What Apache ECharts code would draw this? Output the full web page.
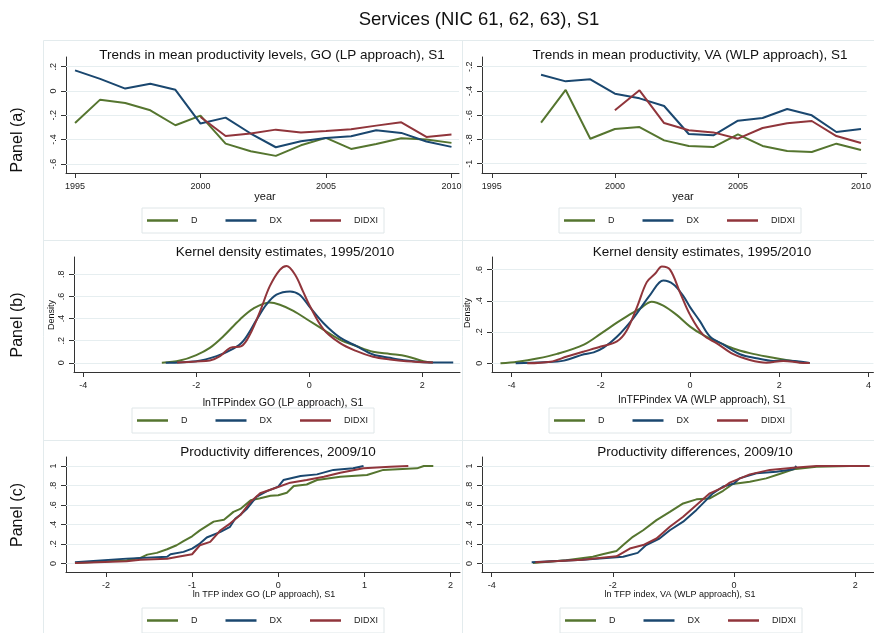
<!DOCTYPE html>
<html>
<head>
<meta charset="utf-8">
<script src="https://cdn.jsdelivr.net/npm/echarts@6/dist/echarts.min.js"></script>
<style>
  html, body { margin: 0; padding: 0; background: #fff; }
  #chart { width: 874px; height: 633px; }
</style>
</head>
<body>
<div id="chart"></div>
<script>
// ---- series names and colours ----
const seriesNames = ['D', 'DX', 'DIDXI'];
const seriesColors = { D: '#55752f', DX: '#1a476f', DIDXI: '#90353b' };

// ---- Panel (a): yearly mean productivity ----
const years = [1995, 1996, 1997, 1998, 1999, 2000, 2001, 2002, 2003, 2004, 2005, 2006, 2007, 2008, 2009, 2010];
const goD     = [-0.263, -0.071, -0.099, -0.159, -0.282, -0.203, -0.433, -0.496, -0.534, -0.447, -0.386, -0.477, -0.436, -0.389, -0.400, -0.427];
const goDX    = [0.170, 0.100, 0.020, 0.060, 0.010, -0.268, -0.219, -0.350, -0.463, -0.414, -0.386, -0.373, -0.323, -0.345, -0.416, -0.460];
const goDIDXI = [null, null, null, null, null, -0.214, -0.370, -0.350, -0.318, -0.342, -0.329, -0.315, -0.285, -0.258, -0.378, -0.359];
const vaD     = [null, null, -0.662, -0.392, -0.794, -0.714, -0.698, -0.808, -0.854, -0.863, -0.758, -0.854, -0.896, -0.904, -0.835, -0.887];
const vaDX    = [null, null, -0.266, -0.321, -0.304, -0.423, -0.461, -0.524, -0.755, -0.766, -0.645, -0.623, -0.549, -0.601, -0.739, -0.714];
const vaDIDXI = [null, null, null, null, null, -0.560, -0.395, -0.665, -0.725, -0.742, -0.794, -0.706, -0.667, -0.648, -0.772, -0.830];

// ---- Panel (b): kernel density estimates (x grid, density) ----
const kdeGoD_x     = [-2.61, -2.29, -2.0, -1.76, -1.52, -1.23, -0.99, -0.70, -0.52, -0.28, 0, 0.25, 0.54, 0.84, 1.13, 1.43, 1.72, 2.02, 2.19];
const kdeGoD_y     = [0, 0.02, 0.07, 0.135, 0.24, 0.39, 0.49, 0.545, 0.525, 0.47, 0.38, 0.30, 0.21, 0.15, 0.10, 0.08, 0.06, 0.015, 0.003];
const kdeGoDX_x    = [-2.54, -2.0, -1.64, -1.35, -1.17, -0.93, -0.76, -0.58, -0.34, -0.17, 0, 0.25, 0.54, 0.84, 1.13, 1.43, 1.72, 2.02, 2.55];
const kdeGoDX_y    = [0, 0.015, 0.06, 0.125, 0.195, 0.39, 0.525, 0.615, 0.645, 0.615, 0.51, 0.36, 0.23, 0.15, 0.075, 0.045, 0.02, 0.006, 0.003];
const kdeGoDIDXI_x = [-2.34, -2.0, -1.76, -1.58, -1.40, -1.20, -1.05, -0.87, -0.70, -0.52, -0.40, -0.25, -0.11, 0, 0.25, 0.54, 0.84, 1.13, 1.43, 1.72, 2.19];
const kdeGoDIDXI_y = [0.003, 0.012, 0.02, 0.06, 0.135, 0.15, 0.255, 0.465, 0.69, 0.84, 0.875, 0.795, 0.645, 0.525, 0.305, 0.18, 0.105, 0.054, 0.03, 0.015, 0.003];

const kdeVaD_x     = [-4.25, -3.87, -3.43, -2.98, -2.38, -2.0, -1.64, -1.34, -1.12, -0.86, -0.60, -0.30, 0, 0.30, 0.60, 0.97, 1.34, 1.71, 2.09, 2.46, 2.68];
const kdeVaD_y     = [0, 0.01, 0.03, 0.06, 0.12, 0.19, 0.26, 0.315, 0.35, 0.395, 0.37, 0.31, 0.235, 0.18, 0.14, 0.095, 0.065, 0.043, 0.025, 0.006, 0.002];
const kdeVaDX_x    = [-3.91, -3.28, -2.83, -2.38, -2.16, -1.94, -1.64, -1.27, -0.89, -0.60, -0.37, -0.15, 0, 0.22, 0.45, 0.75, 1.12, 1.49, 1.86, 2.09, 2.68];
const kdeVaDX_y    = [0, 0.006, 0.017, 0.058, 0.07, 0.10, 0.17, 0.29, 0.44, 0.53, 0.505, 0.43, 0.36, 0.27, 0.17, 0.12, 0.058, 0.032, 0.015, 0.017, 0.002];
const kdeVaDIDXI_x = [-3.65, -3.13, -2.76, -2.38, -2.0, -1.64, -1.42, -1.19, -0.97, -0.78, -0.63, -0.45, -0.22, 0, 0.30, 0.60, 0.97, 1.34, 1.71, 2.09, 2.46, 2.68];
const kdeVaDIDXI_y = [0, 0.01, 0.043, 0.075, 0.107, 0.14, 0.21, 0.36, 0.52, 0.575, 0.62, 0.60, 0.45, 0.31, 0.18, 0.128, 0.058, 0.021, 0.004, 0.015, 0.004, 0.002];

// ---- Panel (c): cumulative distributions 2009/10 ----
const cdfGoD_x     = [-2.36, -1.76, -1.60, -1.52, -1.41, -1.29, -1.18, -1.10, -1.0, -0.91, -0.75, -0.63, -0.52, -0.44, -0.32, -0.21, -0.09, 0, 0.10, 0.18, 0.33, 0.45, 0.72, 1.03, 1.22, 1.61, 1.69, 1.80];
const cdfGoD_y     = [0.007, 0.034, 0.058, 0.092, 0.11, 0.147, 0.188, 0.23, 0.28, 0.34, 0.43, 0.45, 0.53, 0.56, 0.65, 0.67, 0.695, 0.70, 0.726, 0.795, 0.81, 0.856, 0.89, 0.907, 0.96, 0.976, 1.0, 1.0];
const cdfGoDX_x    = [-2.36, -1.76, -1.29, -1.25, -1.10, -1.0, -0.91, -0.83, -0.67, -0.56, -0.50, -0.44, -0.36, -0.25, -0.13, 0, 0.06, 0.26, 0.45, 0.64, 0.87, 0.99];
const cdfGoDX_y    = [0.014, 0.051, 0.07, 0.096, 0.12, 0.154, 0.205, 0.267, 0.325, 0.377, 0.46, 0.50, 0.565, 0.685, 0.743, 0.788, 0.856, 0.897, 0.914, 0.96, 0.976, 1.0];
const cdfGoDIDXI_x = [-2.36, -1.76, -1.60, -1.29, -1.18, -1.0, -0.91, -0.79, -0.67, -0.56, -0.44, -0.32, -0.21, -0.05, 0.14, 0.33, 0.53, 0.72, 0.99, 1.30, 1.51];
const cdfGoDIDXI_y = [0.007, 0.024, 0.04, 0.05, 0.068, 0.096, 0.188, 0.223, 0.342, 0.41, 0.497, 0.634, 0.72, 0.77, 0.829, 0.856, 0.89, 0.93, 0.976, 0.993, 1.0];

const cdfVaD_x     = [-3.32, -2.77, -2.33, -2.17, -1.94, -1.83, -1.67, -1.50, -1.28, -1.06, -0.84, -0.62, -0.40, -0.18, -0.02, 0.26, 0.53, 0.75, 0.98, 1.36, 1.91];
const cdfVaD_y     = [0.007, 0.034, 0.07, 0.096, 0.13, 0.19, 0.274, 0.342, 0.445, 0.53, 0.616, 0.658, 0.668, 0.746, 0.815, 0.839, 0.873, 0.918, 0.966, 0.993, 1.0];
const cdfVaDX_x    = [-3.34, -2.50, -1.83, -1.59, -1.45, -1.23, -1.06, -0.84, -0.62, -0.46, -0.35, -0.18, 0, 0.09, 0.37, 0.70, 0.98, 1.03];
const cdfVaDX_y    = [0.014, 0.04, 0.07, 0.11, 0.19, 0.257, 0.342, 0.43, 0.55, 0.65, 0.72, 0.79, 0.82, 0.873, 0.925, 0.94, 0.966, 1.0];
const cdfVaDIDXI_x = [-3.28, -2.50, -1.94, -1.72, -1.50, -1.28, -1.06, -0.84, -0.62, -0.40, -0.18, -0.07, 0.26, 0.59, 0.98, 1.36, 2.24];
const cdfVaDIDXI_y = [0.014, 0.04, 0.075, 0.154, 0.19, 0.257, 0.377, 0.48, 0.60, 0.72, 0.78, 0.829, 0.914, 0.96, 0.983, 1.0, 1.0];

// ---- tick values ----
const ticksYearX = [1995, 2000, 2005, 2010];
const ticksGoY   = [-0.6, -0.4, -0.2, 0, 0.2];
const ticksVaY   = [-1, -0.8, -0.6, -0.4, -0.2];
const ticksKdeGoX = [-4, -2, 0, 2];
const ticksKdeGoY = [0, 0.2, 0.4, 0.6, 0.8];
const ticksKdeVaX = [-4, -2, 0, 2, 4];
const ticksKdeVaY = [0, 0.2, 0.4, 0.6];
const ticksCdfGoX = [-2, -1, 0, 1, 2];
const ticksCdfVaX = [-4, -2, 0, 2];
const ticksCdfY   = [0, 0.2, 0.4, 0.6, 0.8, 1];

const FONT = '"Liberation Sans", Arial, Helvetica, sans-serif';
const GRIDLINE = '#e6eef0';
const FRAME = '#e3ebed';

// Stata-style number labels: .2, -.4, 0, -1
function stataNum(v) {
  const r = Math.round(v * 10) / 10;
  return String(r).replace(/^(-?)0\./, '$1.');
}
function pairs(xs, ys) {
  return xs.map((x, i) => [x, ys[i]]).filter(p => p[1] !== null);
}

// plot-area placement and axis extents for the six panels
const panels = [
  { grid: { left: 66,  top: 57,  width: 393, height: 116 }, x: [1994.64, 2010.3], y: [-0.675, 0.28],  xt: ticksYearX,  yt: ticksGoY },
  { grid: { left: 482, top: 57,  width: 392, height: 116 }, x: [1994.6, 2010.23], y: [-1.077, -0.12], xt: ticksYearX,  yt: ticksVaY },
  { grid: { left: 74,  top: 257, width: 386, height: 115 }, x: [-4.165, 2.67],    y: [-0.083, 0.956], xt: ticksKdeGoX, yt: ticksKdeGoY },
  { grid: { left: 492, top: 257, width: 382, height: 115 }, x: [-4.44, 4.11],     y: [-0.056, 0.681], xt: ticksKdeVaX, yt: ticksKdeVaY },
  { grid: { left: 66,  top: 457, width: 394, height: 115 }, x: [-2.464, 2.11],    y: [-0.086, 1.092], xt: ticksCdfGoX, yt: ticksCdfY },
  { grid: { left: 482, top: 457, width: 392, height: 115 }, x: [-4.16, 2.31],     y: [-0.086, 1.092], xt: ticksCdfVaX, yt: ticksCdfY }
];

const panelData = [
  [pairs(years, goD), pairs(years, goDX), pairs(years, goDIDXI)],
  [pairs(years, vaD), pairs(years, vaDX), pairs(years, vaDIDXI)],
  [pairs(kdeGoD_x, kdeGoD_y), pairs(kdeGoDX_x, kdeGoDX_y), pairs(kdeGoDIDXI_x, kdeGoDIDXI_y)],
  [pairs(kdeVaD_x, kdeVaD_y), pairs(kdeVaDX_x, kdeVaDX_y), pairs(kdeVaDIDXI_x, kdeVaDIDXI_y)],
  [pairs(cdfGoD_x, cdfGoD_y), pairs(cdfGoDX_x, cdfGoDX_y), pairs(cdfGoDIDXI_x, cdfGoDIDXI_y)],
  [pairs(cdfVaD_x, cdfVaD_y), pairs(cdfVaDX_x, cdfVaDX_y), pairs(cdfVaDIDXI_x, cdfVaDIDXI_y)]
];
const smoothing = [false, false, 0.35, 0.35, false, false];

const axisLine = { show: true, onZero: false, lineStyle: { color: '#333', width: 1 } };

const grids = [], xAxes = [], yAxes = [], series = [];
panels.forEach((p, i) => {
  grids.push(Object.assign({ containLabel: false }, p.grid));
  xAxes.push({
    type: 'value', gridIndex: i, min: p.x[0], max: p.x[1],
    axisLine: axisLine,
    axisTick: { show: true, length: 5, customValues: p.xt, lineStyle: { color: '#333' } },
    axisLabel: { customValues: p.xt, formatter: v => (i < 2 ? String(v) : stataNum(v)),
                 fontFamily: FONT, fontSize: 9, color: '#222', margin: 9 },
    splitLine: { show: false }
  });
  yAxes.push({
    type: 'value', gridIndex: i, min: p.y[0], max: p.y[1],
    axisLine: axisLine,
    axisTick: { show: true, length: 5, customValues: p.yt, lineStyle: { color: '#333' } },
    axisLabel: { customValues: p.yt, formatter: v => stataNum(v), rotate: 90,
                 fontFamily: FONT, fontSize: 9, color: '#222', margin: 8 },
    splitLine: { show: false }
  });
  // horizontal gridlines at the y ticks, kept beneath the curves
  series.push({
    name: 'grid' + i, type: 'line', xAxisIndex: i, yAxisIndex: i, data: [], z: 1,
    silent: true,
    markLine: {
      silent: true, symbol: 'none', animation: false, label: { show: false }, z: 1,
      lineStyle: { color: GRIDLINE, width: 1, type: 'solid' },
      emphasis: { disabled: true },
      data: p.yt.map(v => ({ yAxis: v }))
    }
  });
  seriesNames.forEach((name, k) => {
    series.push({
      name: name, type: 'line', xAxisIndex: i, yAxisIndex: i,
      data: panelData[i][k], showSymbol: false, symbol: 'none',
      smooth: smoothing[i], z: 6, animation: false,
      lineStyle: { color: seriesColors[name], width: 2 },
      itemStyle: { color: seriesColors[name] }
    });
  });
});

// one legend box under each panel
const legendPos = [[142, 208], [559, 208], [132, 408], [549, 408], [142, 608], [560, 608]];
const legends = legendPos.map(([l, t]) => ({
  data: seriesNames, left: l, top: t, orient: 'horizontal',
  icon: 'rect', itemWidth: 31, itemHeight: 2.5, itemGap: 28,
  padding: [8, 6, 8, 5],
  borderColor: '#dfe6e8', borderWidth: 1, backgroundColor: '#fff',
  selectedMode: false,
  textStyle: { fontFamily: FONT, fontSize: 9, color: '#222', padding: [0, 0, 0, 8] }
}));

function label(text, x, y, size, rot) {
  return {
    type: 'text', x: x, y: y, rotation: rot || 0, silent: true, z: 10,
    style: { text: text, font: size + 'px ' + FONT, fill: '#111', align: 'center', verticalAlign: 'middle' }
  };
}
function rule(x1, y1, x2, y2) {
  return { type: 'line', silent: true, z: 0, shape: { x1, y1, x2, y2 }, style: { stroke: FRAME, lineWidth: 1 } };
}

const graphics = [
  // frames around the six graph regions
  rule(43.5, 40.5, 874, 40.5), rule(43.5, 240.5, 874, 240.5), rule(43.5, 440.5, 874, 440.5),
  rule(43.5, 40.5, 43.5, 633), rule(462.5, 40.5, 462.5, 633),
  // overall and panel titles
  label('Services (NIC 61, 62, 63), S1', 479, 20, 18.5),
  label('Panel (a)', 18, 140, 16, Math.PI / 2),
  label('Panel (b)', 18, 325, 16, Math.PI / 2),
  label('Panel (c)', 18, 515, 16, Math.PI / 2),
  label('Trends in mean productivity levels, GO (LP approach), S1', 272, 55, 13.5),
  label('Trends in mean productivity, VA (WLP approach), S1', 690, 55, 13.5),
  label('Kernel density estimates, 1995/2010', 285, 252, 13.5),
  label('Kernel density estimates, 1995/2010', 702, 252, 13.5),
  label('Productivity differences, 2009/10', 278, 452, 13.5),
  label('Productivity differences, 2009/10', 695, 452, 13.5),
  // axis titles
  label('year', 265, 197, 11),
  label('year', 683, 197, 11),
  label('Density', 52, 315, 9, Math.PI / 2),
  label('Density', 468, 313, 9, Math.PI / 2),
  label('lnTFPindex GO (LP approach), S1', 283, 403, 10.5),
  label('lnTFPindex VA (WLP approach), S1', 702, 400, 10.5),
  label('ln TFP index GO (LP approach), S1', 264, 595, 9),
  label('ln TFP index, VA (WLP approach), S1', 680, 595, 9)
];

const chart = echarts.init(document.getElementById('chart'), null, { renderer: 'canvas' });
chart.setOption({
  backgroundColor: '#ffffff',
  animation: false,
  grid: grids,
  xAxis: xAxes,
  yAxis: yAxes,
  legend: legends,
  series: series,
  graphic: graphics
});
</script>
</body>
</html>
